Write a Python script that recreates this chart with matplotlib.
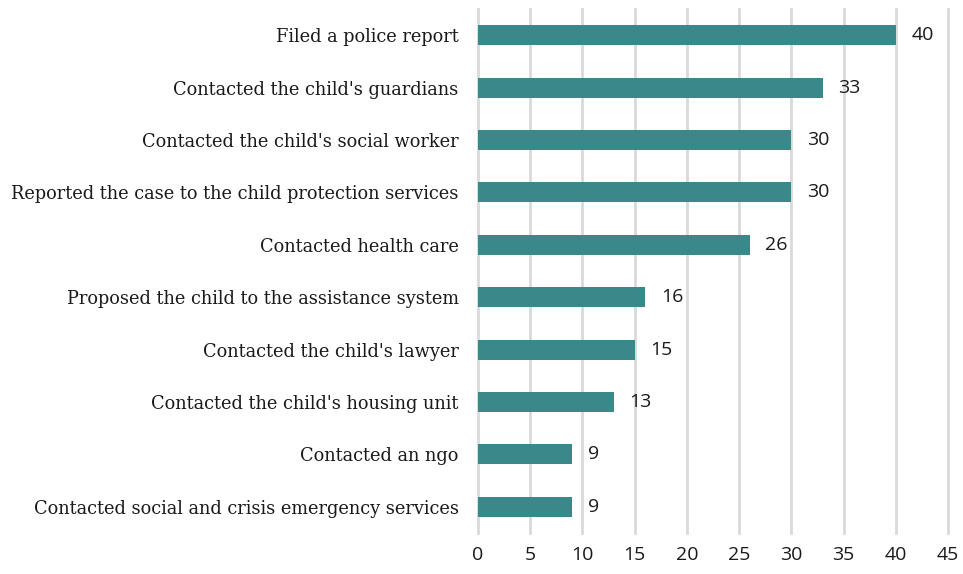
import matplotlib.pyplot as plt

# actions taken, counts
actions = [
    "Filed a police report",
    "Contacted the child's guardians",
    "Contacted the child's social worker",
    "Reported the case to the child protection services",
    "Contacted health care",
    "Proposed the child to the assistance system",
    "Contacted the child's lawyer",
    "Contacted the child's housing unit",
    "Contacted an ngo",
    "Contacted social and crisis emergency services",
]
counts = [40, 33, 30, 30, 26, 16, 15, 13, 9, 9]
xticks = list(range(0, 50, 5))

bar_color = '#3a8889'

fig = plt.figure(figsize=(9.63, 5.74), dpi=100)
ax = fig.add_axes([0.4964, 0.0714, 0.4880, 0.9129])

ypos = list(range(len(actions)))[::-1]
ax.barh(ypos, counts, height=0.38, color=bar_color, zorder=3)

for y, v in zip(ypos, counts):
    ax.text(v + 1.5, y, str(v), va='center', ha='left',
            fontsize=14, family='Open Sans', color='#1a1a1a')

ax.set_xlim(0, 45)
ax.set_ylim(-0.5, len(actions) - 0.5)
ax.set_xticks(xticks)
ax.set_xticklabels([str(t) for t in xticks], family='Open Sans', fontsize=14)
ax.set_yticks(ypos)
ax.set_yticklabels(actions, family='DejaVu Serif', fontsize=12.8)
ax.tick_params(axis='both', length=0, colors='#1a1a1a')
ax.tick_params(axis='y', pad=14)
ax.tick_params(axis='x', pad=9)

ax.grid(axis='x', color='#d9d9d9', linewidth=2, zorder=0)
for line in ax.get_xgridlines():
    line.set_clip_on(False)
for s in ax.spines.values():
    s.set_visible(False)

plt.savefig('out.png', dpi=100)
